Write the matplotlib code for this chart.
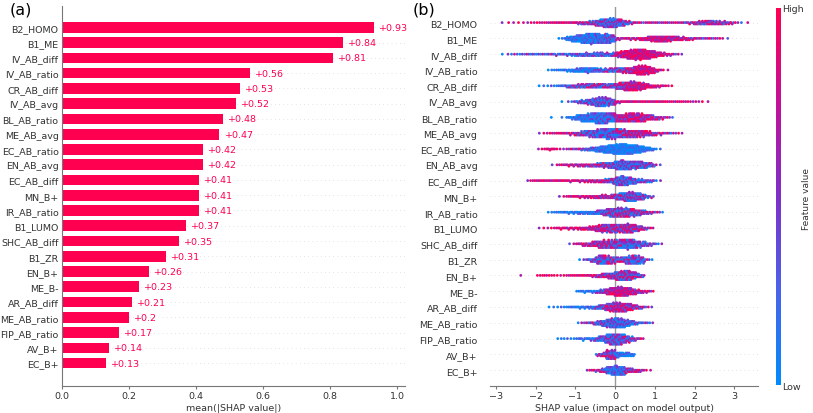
import numpy as np
import matplotlib as mpl
import matplotlib.pyplot as plt
from matplotlib.colors import LinearSegmentedColormap

# feature order (most important first)
features = ["B2_HOMO", "B1_ME", "IV_AB_diff", "IV_AB_ratio", "CR_AB_diff",
            "IV_AB_avg", "BL_AB_ratio", "ME_AB_avg", "EC_AB_ratio", "EN_AB_avg",
            "EC_AB_diff", "MN_B+", "IR_AB_ratio", "B1_LUMO", "SHC_AB_diff",
            "B1_ZR", "EN_B+", "ME_B-", "AR_AB_diff", "ME_AB_ratio",
            "FIP_AB_ratio", "AV_B+", "EC_B+"]
mean_abs_shap = [0.93, 0.84, 0.81, 0.56, 0.53, 0.52, 0.48, 0.47, 0.42, 0.42,
                 0.41, 0.41, 0.41, 0.37, 0.35, 0.31, 0.26, 0.23, 0.21, 0.2,
                 0.17, 0.14, 0.13]

# beeswarm, read off the picture as 0.25-wide SHAP bins:
# left edge of first bin, points per bin, mean feature value per bin (0=low, 1=high)
swarm_start = [-3.0, -1.5, -3.0, -1.75, -2.0, -1.5, -1.75, -2.0, -2.0, -1.75,
               -2.25, -1.5, -1.75, -2.0, -1.25, -1.0, -2.5, -1.0, -1.75, -1.0,
               -1.5, -0.5, -0.75]
swarm_counts = [
    [1, 2, 2, 3, 4, 5, 6, 6, 10, 15, 30, 40, 30, 12, 5, 5, 5, 5, 5, 8, 15, 18, 15, 10, 3, 1],
    [3, 20, 35, 45, 40, 35, 8, 8, 10, 20, 25, 22, 15, 10, 6, 5, 4, 1],
    [1, 3, 4, 5, 5, 6, 7, 9, 12, 14, 16, 14, 25, 40, 45, 35, 18, 8, 3],
    [3, 6, 10, 18, 20, 15, 16, 20, 25, 40, 30, 8, 1],
    [2, 3, 6, 12, 16, 18, 18, 18, 30, 40, 32, 15, 8, 3],
    [1, 3, 12, 25, 40, 30, 8, 7, 6, 6, 6, 5, 5, 4, 3, 1],
    [1, 1, 8, 22, 30, 38, 32, 25, 30, 28, 18, 10, 4],
    [2, 4, 6, 8, 15, 22, 30, 35, 30, 25, 22, 15, 8, 5, 3],
    [3, 8, 3, 5, 8, 15, 30, 45, 55, 50, 35, 15, 2],
    [1, 5, 8, 10, 12, 18, 25, 40, 35, 30, 18, 2],
    [4, 6, 6, 7, 7, 8, 10, 12, 20, 40, 30, 15, 10, 2],
    [2, 6, 8, 10, 14, 16, 30, 40, 28, 8],
    [3, 6, 8, 10, 12, 20, 35, 40, 35, 22, 10, 4],
    [2, 3, 7, 8, 10, 15, 30, 35, 35, 38, 20, 6],
    [2, 8, 14, 25, 28, 30, 32, 20, 10, 3],
    [2, 10, 30, 25, 18, 28, 25, 4],
    [1, 0, 4, 4, 3, 5, 6, 8, 15, 25, 40, 38, 15],
    [6, 8, 14, 30, 40, 30, 14, 6],
    [2, 3, 6, 8, 10, 18, 35, 40, 28, 12, 3],
    [3, 8, 20, 38, 40, 22, 8, 4],
    [3, 3, 6, 9, 18, 35, 35, 18, 6],
    [12, 40, 20, 15],
    [5, 12, 35, 38, 18, 10, 2],
]
swarm_colour = [
    [0.85] * 8 + [0.7, 0.5, 0.4, 0.35, 0.4, 0.5] + [0.7] * 5 + [0.6] * 7,
    [0.15, 0.12, 0.12, 0.15, 0.2, 0.3, 0.7, 0.75, 0.8, 0.8, 0.8, 0.75, 0.75, 0.7, 0.65, 0.65, 0.6, 0.6],
    [0.4, 0.4, 0.35, 0.35, 0.35, 0.35, 0.35, 0.3, 0.3, 0.3, 0.3, 0.35, 0.8, 0.85, 0.85, 0.85, 0.8, 0.75, 0.7],
    [0.1, 0.1, 0.1, 0.12, 0.15, 0.3, 0.45, 0.5, 0.7, 0.85, 0.85, 0.8, 0.8],
    [0.15, 0.15, 0.15, 0.4, 0.5, 0.5, 0.5, 0.45, 0.6, 0.75, 0.8, 0.85, 0.85, 0.85],
    [0.3, 0.3, 0.35, 0.35, 0.3, 0.35, 0.8, 0.85, 0.85, 0.85, 0.85, 0.85, 0.85, 0.85, 0.8, 0.7],
    [0.15, 0.1, 0.1, 0.12, 0.15, 0.2, 0.3, 0.7, 0.75, 0.75, 0.7, 0.7, 0.65],
    [0.85, 0.85, 0.85, 0.8, 0.5, 0.35, 0.3, 0.3, 0.5, 0.65, 0.7, 0.7, 0.65, 0.6, 0.6],
    [0.9, 0.9, 0.85, 0.6, 0.5, 0.3, 0.12, 0.08, 0.06, 0.06, 0.08, 0.1, 0.1],
    [0.8, 0.8, 0.75, 0.7, 0.65, 0.55, 0.4, 0.3, 0.3, 0.35, 0.4, 0.4],
    [0.85, 0.85, 0.85, 0.85, 0.85, 0.8, 0.75, 0.7, 0.5, 0.35, 0.3, 0.3, 0.35, 0.3],
    [0.85, 0.85, 0.85, 0.8, 0.75, 0.65, 0.45, 0.4, 0.4, 0.4],
    [0.1, 0.1, 0.1, 0.12, 0.15, 0.3, 0.45, 0.5, 0.5, 0.5, 0.55, 0.55],
    [0.9, 0.9, 0.9, 0.85, 0.85, 0.8, 0.7, 0.6, 0.6, 0.65, 0.6, 0.6],
    [0.75, 0.75, 0.7, 0.65, 0.55, 0.45, 0.35, 0.35, 0.35, 0.4],
    [0.4, 0.4, 0.4, 0.5, 0.5, 0.4, 0.35, 0.4],
    [0.95, 0.95, 0.95, 0.95, 0.95, 0.9, 0.9, 0.85, 0.7, 0.55, 0.5, 0.5, 0.45],
    [0.1, 0.1, 0.35, 0.75, 0.8, 0.75, 0.7, 0.7],
    [0.1, 0.1, 0.1, 0.1, 0.15, 0.4, 0.65, 0.7, 0.65, 0.6, 0.6],
    [0.6, 0.5, 0.35, 0.3, 0.25, 0.25, 0.3, 0.35],
    [0.1, 0.1, 0.15, 0.2, 0.3, 0.35, 0.4, 0.45, 0.6],
    [0.6, 0.55, 0.15, 0.1],
    [0.85, 0.6, 0.2, 0.2, 0.6, 0.7, 0.7],
]

RED = "#ff0051"
GREY_TXT = "#333333"
FS = 6.8
red_blue = LinearSegmentedColormap.from_list(
    "red_blue", [(0, "#008bfb"), (0.25, "#4a62ea"), (0.5, "#7d2fc8"),
                 (0.75, "#c3109a"), (1, "#ff0051")])


def bin_positions(c, c_prev, c_next):
    """Spread c points over a unit bin, denser towards the fuller neighbour."""
    dl, dr = (c_prev + c) / 2.0, (c + c_next) / 2.0
    p = (np.arange(c) + 0.5) / c
    if abs(dr - dl) < 1e-9:
        return p
    return (-dl + np.sqrt(dl ** 2 + (dr ** 2 - dl ** 2) * p)) / (dr - dl)


fig = plt.figure(figsize=(8.13, 4.14), dpi=100)
ax_a = fig.add_axes([0.0763, 0.0652, 0.4219, 0.918])
ax_b = fig.add_axes([0.6027, 0.0652, 0.3297, 0.916])
cax = fig.add_axes([0.9545, 0.0676, 0.0062, 0.911])

n = len(features)
ypos = np.arange(n)[::-1]

# ---- (a) bar chart ----
for y in ypos:
    ax_a.axhline(y, color="#cccccc", lw=0.5, dashes=(1, 5), zorder=-1)
ax_a.barh(ypos, mean_abs_shap, 0.7, color=RED, align="center")
for y, v in zip(ypos, mean_abs_shap):
    ax_a.text(v + 0.015, y, f"+{v:g}", color=RED, fontsize=FS, va="center", ha="left")
ax_a.set_yticks(ypos)
ax_a.set_yticklabels(features, fontsize=FS, color=GREY_TXT)
ax_a.set_xlim(0, 1.024)
ax_a.set_ylim(-1.5, n + 0.4)
ax_a.set_xticks(np.arange(0, 1.01, 0.2))
ax_a.tick_params(axis="x", labelsize=FS, labelcolor=GREY_TXT, length=2, pad=1.5, color="#777777")
ax_a.tick_params(axis="y", length=0, pad=2.5)
ax_a.set_xlabel("mean(|SHAP value|)", fontsize=FS, color=GREY_TXT, labelpad=2)
for s in ("top", "right"):
    ax_a.spines[s].set_visible(False)
for s in ("left", "bottom"):
    ax_a.spines[s].set_color("#777777")

# ---- (b) beeswarm ----
sub = 0.04
for i in range(n):
    counts = swarm_counts[i]
    xs, cs = [], []
    for j, (c, col) in enumerate(zip(counts, swarm_colour[i])):
        if c == 0:
            continue
        c_prev = counts[j - 1] if j > 0 else 0
        c_next = counts[j + 1] if j + 1 < len(counts) else 0
        lo = swarm_start[i] + 0.25 * j
        xs.extend(lo + 0.25 * bin_positions(c, c_prev, c_next))
        cs.extend([col] * c)
    xs = np.array(xs)
    cs = np.array(cs)
    # mix individual dot colours around the bin mean: wide where mixed, narrow at the ends
    u = (np.arange(len(xs)) * 0.6180339887) % 1
    spread = 0.5 + 1.4 * np.minimum(cs, 1 - cs)
    vals = np.clip(cs + (u - 0.5) * spread, 0, 1)
    q = np.floor(xs / sub).astype(int)
    ys = np.zeros(len(xs))
    layer, last = 0, None
    for m in range(len(xs)):
        if q[m] != last:
            layer, last = 0, q[m]
        ys[m] = np.ceil(layer / 2) * (-1 if layer % 2 else 1)
        layer += 1
    ys *= 0.9 * (0.4 / (np.max(ys) + 1))
    ax_b.axhline(ypos[i], color="#cccccc", lw=0.5, dashes=(1, 5), zorder=-1)
    ax_b.scatter(xs, ypos[i] + ys, c=vals, cmap=red_blue, vmin=0, vmax=1,
                 s=4, linewidths=0, zorder=3, rasterized=True)

ax_b.axvline(0, color="#999999", lw=1, zorder=-1)
ax_b.set_yticks(ypos)
ax_b.set_yticklabels(features, fontsize=FS, color=GREY_TXT)
ax_b.set_xlim(-3.15, 3.6)
ax_b.set_ylim(-1, n)
ax_b.set_xticks(range(-3, 4))
ax_b.tick_params(axis="x", labelsize=FS, labelcolor=GREY_TXT, length=2, pad=1.5, color="#777777")
ax_b.tick_params(axis="y", length=0, pad=9)
ax_b.set_xlabel("SHAP value (impact on model output)", fontsize=FS, color=GREY_TXT, labelpad=2)
for s in ("top", "right", "left"):
    ax_b.spines[s].set_visible(False)
ax_b.spines["bottom"].set_color("#777777")

# colour bar
sm = mpl.cm.ScalarMappable(cmap=red_blue, norm=plt.Normalize(0, 1))
cb = fig.colorbar(sm, cax=cax, ticks=[0, 1])
cb.set_ticklabels(["Low", "High"])
cb.ax.tick_params(labelsize=FS, length=0, pad=1, labelcolor=GREY_TXT)
cb.outline.set_visible(False)
fig.text(0.9915, 0.52, "Feature value", rotation=90, fontsize=6.5,
         color=GREY_TXT, ha="center", va="center")

fig.text(0.012, 0.995, "(a)", fontsize=11.5, va="top", ha="left")
fig.text(0.508, 0.995, "(b)", fontsize=11.5, va="top", ha="left")

fig.savefig("out.png", dpi=100)
